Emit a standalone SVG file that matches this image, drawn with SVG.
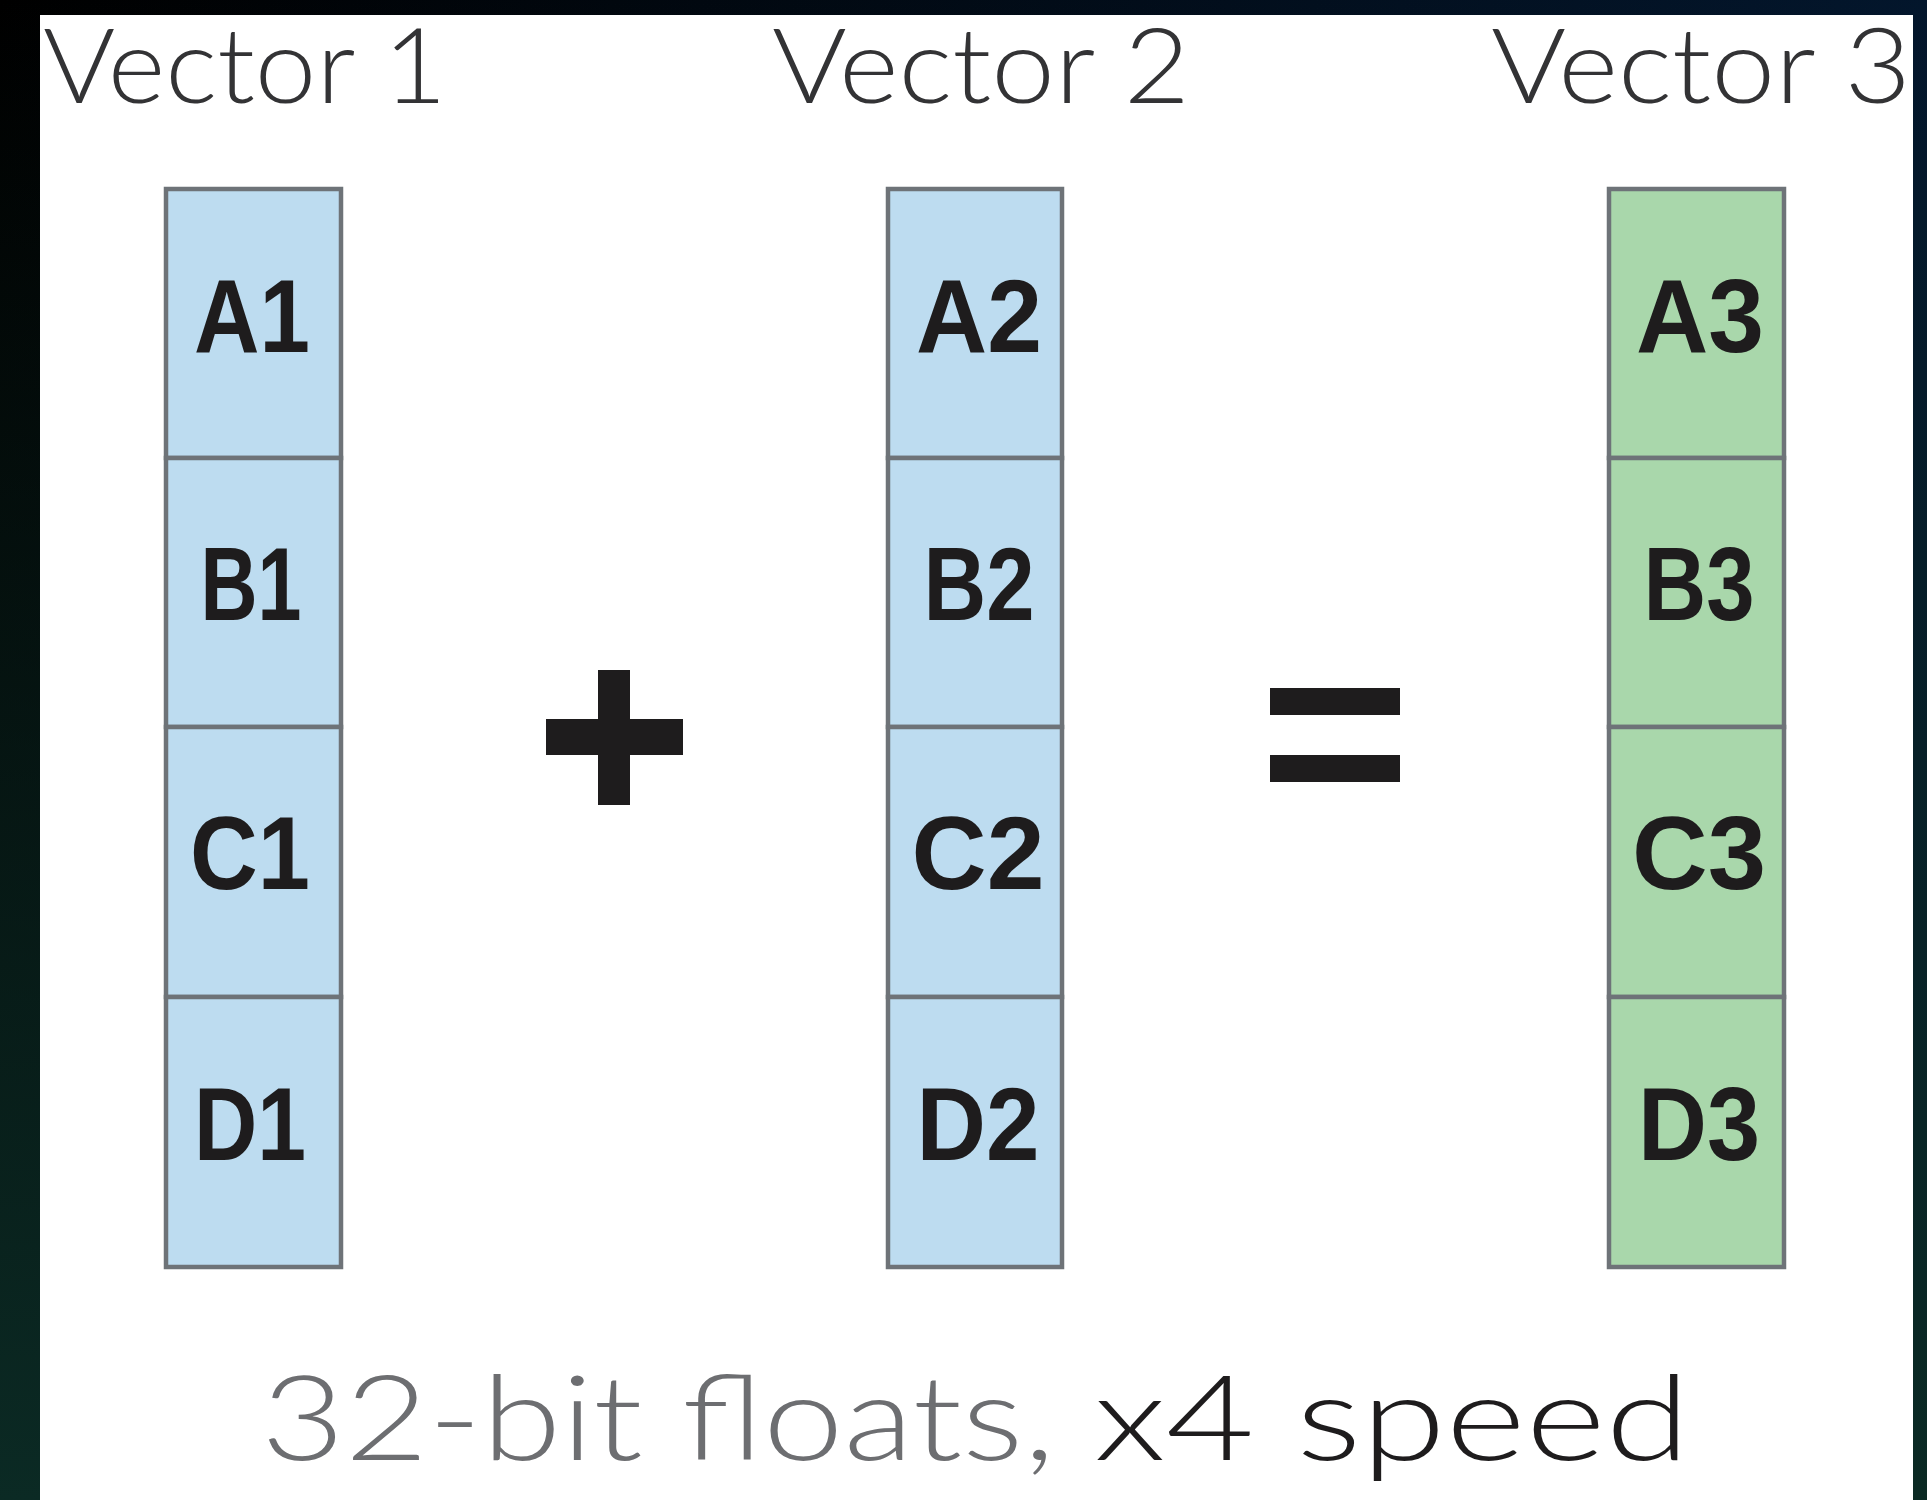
<svg xmlns="http://www.w3.org/2000/svg" width="1927" height="1500" viewBox="0 0 1927 1500">
<defs>
<linearGradient id="bgH" x1="0" y1="0" x2="1" y2="0"><stop offset="0" stop-color="#000000"/><stop offset="1" stop-color="#03162c"/></linearGradient>
<linearGradient id="bgV" x1="0" y1="0" x2="0" y2="1"><stop offset="0" stop-color="#0b2a24" stop-opacity="0"/><stop offset="1" stop-color="#0b2a24" stop-opacity="1"/></linearGradient>
<style>
.cellB{fill:#bddcf0;stroke:#6e7378;stroke-width:4.5}
.cellG{fill:#a9d7ab;stroke:#6e7378;stroke-width:4.5}
.lbl{font-family:"Liberation Sans",Arial,sans-serif;font-weight:bold;font-size:104px;fill:#1e1c1d;text-anchor:middle}
.title{font-family:Lato,"Liberation Sans",sans-serif;font-weight:300;font-size:104px;fill:#333335}
.cap{font-family:Lato,"Liberation Sans",sans-serif;font-weight:300;font-size:118px}
</style>
</defs>
<rect x="0" y="0" width="1927" height="1500" fill="url(#bgH)"/>
<rect x="0" y="0" width="1927" height="1500" fill="url(#bgV)"/>
<rect x="40" y="15" width="1873" height="1485" fill="#ffffff"/>

<g id="titles">
<text class="title" x="43" y="103" textLength="404" lengthAdjust="spacingAndGlyphs">Vector 1</text>
<text class="title" x="772" y="103" textLength="418" lengthAdjust="spacingAndGlyphs">Vector 2</text>
<text class="title" x="1491" y="103" textLength="420" lengthAdjust="spacingAndGlyphs">Vector 3</text>
</g>

<g id="vector1">
<rect class="cellB" x="166" y="189" width="175" height="269"/>
<rect class="cellB" x="166" y="458" width="175" height="269"/>
<rect class="cellB" x="166" y="727" width="175" height="270"/>
<rect class="cellB" x="166" y="997" width="175" height="270"/>
<text class="lbl" x="252" y="352" textLength="116" lengthAdjust="spacingAndGlyphs">A1</text>
<text class="lbl" x="251" y="620" textLength="101" lengthAdjust="spacingAndGlyphs">B1</text>
<text class="lbl" x="250" y="889" textLength="120" lengthAdjust="spacingAndGlyphs">C1</text>
<text class="lbl" x="250" y="1160" textLength="112" lengthAdjust="spacingAndGlyphs">D1</text>
</g>

<g id="vector2">
<rect class="cellB" x="888" y="189" width="174" height="269"/>
<rect class="cellB" x="888" y="458" width="174" height="269"/>
<rect class="cellB" x="888" y="727" width="174" height="270"/>
<rect class="cellB" x="888" y="997" width="174" height="270"/>
<text class="lbl" x="979" y="352" textLength="126" lengthAdjust="spacingAndGlyphs">A2</text>
<text class="lbl" x="979" y="620" textLength="111" lengthAdjust="spacingAndGlyphs">B2</text>
<text class="lbl" x="978" y="889" textLength="133" lengthAdjust="spacingAndGlyphs">C2</text>
<text class="lbl" x="978" y="1160" textLength="123" lengthAdjust="spacingAndGlyphs">D2</text>
</g>

<g id="vector3">
<rect class="cellG" x="1609" y="189" width="175" height="269"/>
<rect class="cellG" x="1609" y="458" width="175" height="269"/>
<rect class="cellG" x="1609" y="727" width="175" height="270"/>
<rect class="cellG" x="1609" y="997" width="175" height="270"/>
<text class="lbl" x="1700" y="352" textLength="128" lengthAdjust="spacingAndGlyphs">A3</text>
<text class="lbl" x="1699" y="620" textLength="111" lengthAdjust="spacingAndGlyphs">B3</text>
<text class="lbl" x="1699" y="889" textLength="134" lengthAdjust="spacingAndGlyphs">C3</text>
<text class="lbl" x="1699" y="1160" textLength="122" lengthAdjust="spacingAndGlyphs">D3</text>
</g>

<g id="operators" fill="#1e1c1d">
<rect x="598" y="670" width="32" height="135"/>
<rect x="546" y="719" width="137" height="36"/>
<rect x="1270" y="688" width="130" height="27"/>
<rect x="1270" y="755" width="130" height="27"/>
</g>

<g id="connectors"></g>

<g id="caption">
<text class="cap" x="261" y="1460" fill="#6d6e71" textLength="794" lengthAdjust="spacingAndGlyphs">32-bit floats,</text>
<text class="cap" x="1094" y="1460" fill="#1e1c1d" textLength="596" lengthAdjust="spacingAndGlyphs">x4 speed</text>
</g>
</svg>
